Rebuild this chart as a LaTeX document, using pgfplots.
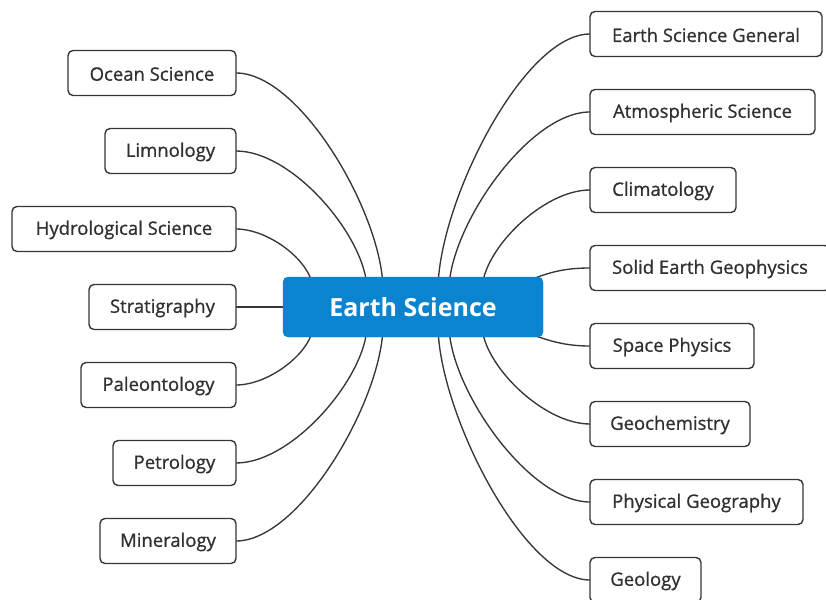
\documentclass[border=0pt]{standalone}
\usepackage{pgfplots}
\pgfplotsset{compat=1.18}
\usepackage{fontspec}
\setmainfont{Open Sans}
\newfontfamily\medfont{Open Sans}[FakeBold=0.8]
\definecolor{edge}{HTML}{363636}
\definecolor{txt}{HTML}{303030}
\definecolor{central}{HTML}{0A84CF}
\newcommand{\tbox}[4]{%
  \draw[edge,line width=1.4pt,rounded corners=5pt,fill=white] (axis cs:#1,{#3-22.5}) rectangle (axis cs:#2,{#3+22.5});
  \node[text=txt,font=\medfont\fontsize{18.5}{22}\selectfont,anchor=center] at (axis cs:{(#1+#2)/2},{#3+1}) {#4};}
\newcommand{\conn}[8]{%
  \draw[edge,line width=1.35pt] (axis cs:#1,#2) .. controls (axis cs:#5,#6) and (axis cs:#7,#8) .. (axis cs:#3,#4);}
\begin{document}
\begin{tikzpicture}
\begin{axis}[hide axis, scale only axis, width=826pt, height=599pt,
  xmin=0, xmax=826, ymin=0, ymax=599, y dir=reverse, clip=true]
\path (rel axis cs:0,0) rectangle (rel axis cs:1,1);
% connectors, left
\conn{236}{73}{383}{290}{301}{73}{383}{216}
\conn{236}{151}{367}{290}{294}{151}{367}{239}
\conn{236}{229}{313}{290}{270}{229}{313}{263}
\conn{236}{307}{290}{307}{260}{307}{275}{307}
\conn{236}{385}{313}{325}{270}{385}{313}{351}
\conn{236}{463}{367}{325}{294}{463}{367}{375}
\conn{236}{541}{383}{325}{301}{541}{383}{398}
% connectors, right
\conn{590}{34}{438}{290}{523}{34}{438}{204}
\conn{590}{112}{449}{290}{528}{112}{449}{228}
\conn{590}{190}{482}{290}{542}{190}{482}{251}
\conn{590}{268}{530}{280}{565}{268}{550}{272}
\conn{590}{346}{530}{334}{565}{346}{550}{341}
\conn{590}{424}{482}{325}{542}{424}{482}{363}
\conn{590}{502}{449}{325}{528}{502}{449}{387}
\conn{590}{580}{438}{325}{523}{580}{438}{410}
% central topic
\draw[central,fill=central,rounded corners=5pt] (axis cs:283,277) rectangle (axis cs:543,337);
\node[text=white,font=\fontsize{25}{30}\selectfont\bfseries] at (axis cs:413,307) {Earth Science};
% left topics
\tbox{68}{236}{73}{Ocean Science}
\tbox{105}{236}{151}{Limnology}
\tbox{12}{236}{229}{Hydrological Science}
\tbox{89}{236}{307}{Stratigraphy}
\tbox{81}{236}{385}{Paleontology}
\tbox{113}{236}{463}{Petrology}
\tbox{100}{236}{541}{Mineralogy}
% right topics
\tbox{590}{822}{34}{Earth Science General}
\tbox{590}{815}{112}{Atmospheric Science}
\tbox{590}{736}{190}{Climatology}
\tbox{590}{830}{268}{Solid Earth Geophysics}
\tbox{590}{754}{346}{Space Physics}
\tbox{590}{750}{424}{Geochemistry}
\tbox{590}{803}{502}{Physical Geography}
\tbox{590}{701}{580}{Geology}
\end{axis}
\end{tikzpicture}
\end{document}
